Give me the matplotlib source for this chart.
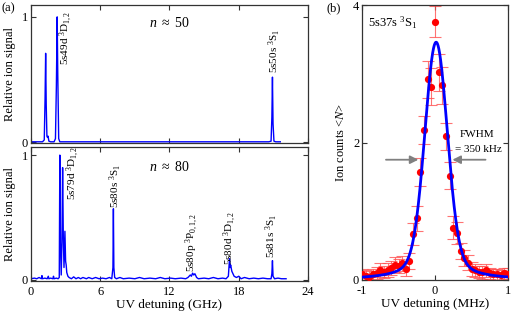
import numpy as np
import matplotlib
matplotlib.use("Agg")
import matplotlib.pyplot as plt

plt.rcParams['font.family'] = ['Liberation Serif', 'DejaVu Serif']
plt.rcParams['mathtext.fontset'] = 'custom'
plt.rcParams['mathtext.rm'] = 'Liberation Serif'
plt.rcParams['mathtext.it'] = 'Liberation Serif:italic'
plt.rcParams['font.size'] = 8

# ---------------- data: panel (a) ----------------
x50 = [0.0, 1.0, 1.15, 1.22, 1.27, 1.32, 1.38, 1.43, 1.48, 1.55,
       1.7, 2.0, 2.12, 2.2, 2.27, 2.32, 2.4, 2.5, 6.0, 12.0,
       18.0, 20.6, 20.8, 20.87, 20.92, 20.97, 21.05, 21.2, 21.6]
y50 = [0.005, 0.005, 0.02, 0.35, 0.71, 0.3, 0.05, 0.04, 0.05, 0.01,
       0.005, 0.005, 0.03, 0.45, 1.0, 0.55, 0.03, 0.005, 0.005, 0.005,
       0.005, 0.005, 0.01, 0.2, 0.52, 0.15, 0.01, 0.005, 0.005]

x80 = [0.0, 0.3, 0.5, 0.7, 0.9, 0.95, 1.0, 1.2, 1.4, 1.5,
       1.55, 1.7, 1.9, 1.95, 2.0, 2.2, 2.35, 2.45, 2.5, 2.55,
       2.62, 2.68, 2.74, 2.8, 2.86, 2.94, 3.0, 3.05, 3.1, 3.2,
       3.3, 3.5, 3.7, 3.9, 4.1, 4.3, 4.5, 4.8, 5.0, 5.3,
       5.6, 5.9, 6.2, 6.5, 6.8, 7.0, 7.1, 7.14, 7.18, 7.25,
       7.4, 7.7, 8.0, 8.5, 9.0, 9.4, 9.8, 10.3, 10.8, 11.2,
       11.6, 12.1, 12.5, 13.0, 13.4, 13.6, 13.8, 13.9, 14.0, 14.1,
       14.2, 14.35, 14.5, 15.0, 15.4, 15.8, 16.2, 16.6, 16.9, 17.1,
       17.2, 17.25, 17.3, 17.4, 17.5, 17.6, 17.8, 18.0, 18.2, 18.5,
       18.9, 19.3, 19.7, 20.1, 20.5, 20.8, 20.87, 20.92, 20.97, 21.1,
       21.4, 21.7, 22.1]
y80 = [0.01, 0.015, 0.01, 0.02, 0.01, 0.035, 0.01, 0.015, 0.01, 0.03,
       0.01, 0.015, 0.01, 0.03, 0.01, 0.015, 0.01, 0.02, 1.0, 0.3,
       0.04, 0.3, 0.9, 0.35, 0.1, 0.39, 0.15, 0.12, 0.06, 0.03,
       0.02, 0.01, 0.025, 0.01, 0.02, 0.01, 0.02, 0.01, 0.02, 0.01,
       0.02, 0.01, 0.015, 0.01, 0.02, 0.01, 0.1, 0.57, 0.1, 0.02,
       0.01, 0.02, 0.01, 0.015, 0.01, 0.02, 0.01, 0.015, 0.01, 0.02,
       0.01, 0.015, 0.01, 0.015, 0.01, 0.02, 0.04, 0.03, 0.055, 0.04,
       0.05, 0.02, 0.01, 0.015, 0.01, 0.02, 0.01, 0.015, 0.01, 0.03,
       0.17, 0.1, 0.12, 0.07, 0.05, 0.03, 0.02, 0.03, 0.01, 0.02,
       0.01, 0.015, 0.01, 0.015, 0.01, 0.01, 0.05, 0.155, 0.03, 0.01,
       0.015, 0.01, 0.01]

labels50 = [r"5s49d $^3$D$_{1,2}$", r"5s50s $^3$S$_1$"]
labels50_x = [3.1, 21.1]
labels50_top = [0.96, 0.83]

labels80 = [r"5s79d $^3$D$_{1,2}$", r"5s80s $^3$S$_1$", r"5s80p $^3$P$_{0,1,2}$",
            r"5s80d $^3$D$_{1,2}$", r"5s81s $^3$S$_1$"]
labels80_x = [3.7, 7.35, 14.0, 17.3, 20.9]
labels80_top = [1.01, 0.875, 0.51, 0.52, 0.5]

# ---------------- data: panel (b) ----------------
det_b = [-1.0, -0.95, -0.9, -0.85, -0.8, -0.75, -0.7, -0.65, -0.6, -0.55,
         -0.5, -0.45, -0.4, -0.35, -0.3, -0.25, -0.2, -0.15, -0.1, -0.05,
         0.0, 0.05, 0.1, 0.15, 0.2, 0.25, 0.3, 0.35, 0.4, 0.45,
         0.5, 0.55, 0.6, 0.65, 0.7, 0.75, 0.8, 0.85, 0.9, 0.95, 1.0]
counts_b = [0.08, 0.06, 0.05, 0.08, 0.1, 0.15, 0.12, 0.15, 0.17, 0.22,
            0.2, 0.24, 0.16, 0.28, 0.67, 0.9, 1.57, 2.18, 2.92, 2.81,
            3.76, 3.02, 2.83, 2.09, 1.52, 0.76, 0.68, 0.42, 0.32, 0.25,
            0.16, 0.14, 0.12, 0.11, 0.14, 0.1, 0.08, 0.08, 0.07, 0.1, 0.09]
err_b = [0.08, 0.08, 0.08, 0.08, 0.09, 0.1, 0.09, 0.1, 0.1, 0.11,
         0.1, 0.11, 0.1, 0.12, 0.16, 0.18, 0.2, 0.2, 0.27, 0.27,
         0.23, 0.27, 0.27, 0.2, 0.2, 0.17, 0.16, 0.12, 0.11, 0.11,
         0.1, 0.09, 0.09, 0.09, 0.09, 0.08, 0.08, 0.08, 0.08, 0.08, 0.08]

# fit (line shape) parameters
fit_center = 0.015
fit_amp = 3.46
fit_sigma = 0.15
fit_gamma = 0.28
fit_eta = 0.17

BLUE = '#0000ff'

fig = plt.figure(figsize=(5.13, 3.11), dpi=100)
ax1 = fig.add_axes([0.0604, 0.540, 0.540, 0.444])
ax2 = fig.add_axes([0.0604, 0.0965, 0.540, 0.4305])
axb = fig.add_axes([0.7057, 0.0997, 0.2846, 0.884])

for ax in (ax1, ax2, axb):
    ax.tick_params(direction='in', top=True, right=True, length=3.5, width=0.8,
                   labelsize=9, pad=2, color='#333333')
    ax.tick_params(axis='x', pad=3.5)
    for s in ax.spines.values():
        s.set_linewidth(0.9)
        s.set_color('#333333')

ax1.plot(x50, y50, color=BLUE, lw=1.0)
ax2.plot(x80, y80, color=BLUE, lw=1.0)
for ax in (ax1, ax2):
    ax.set_xlim(0, 24)
    ax.set_xticks([0, 6, 12, 18, 24])
    ax.set_yticks([0, 1])
    ax.set_yticklabels(['0', '1'])
ax1.set_ylim(-0.005, 1.095)
ax2.set_ylim(-0.008, 1.064)
ax1.set_xticklabels([])
ax2.set_xticklabels(['0', '6', '12', '18', '24'])
ax1.set_ylabel('Relative ion signal', fontsize=9, labelpad=4)
ax2.set_ylabel('Relative ion signal', fontsize=9, labelpad=4)
ax2.set_xlabel('UV detuning (GHz)', fontsize=9.5, labelpad=1)

for lab, x, t in zip(labels50, labels50_x, labels50_top):
    ax1.text(x, t, lab, rotation=90, ha='center', va='top', fontsize=8,
             transform=ax1.get_xaxis_transform())
for lab, x, t in zip(labels80, labels80_x, labels80_top):
    ax2.text(x, t, lab, rotation=90, ha='center', va='top', fontsize=8,
             transform=ax2.get_xaxis_transform())

ax1.text(0.5, 0.87, r"$n$ $\approx$ 50", transform=ax1.transAxes, ha='center',
         va='center', fontsize=10)
ax2.text(0.5, 0.855, r"$n$ $\approx$ 80", transform=ax2.transAxes, ha='center',
         va='center', fontsize=10)

# panel (b)
xf = np.linspace(-1, 1, 801)
u = xf - fit_center
gauss = np.exp(-u**2 / (2 * fit_sigma**2))
lor = fit_gamma**2 / (fit_gamma**2 + u**2)
fit_curve = fit_amp * ((1 - fit_eta) * gauss + fit_eta * lor)

axb.errorbar(det_b, counts_b, yerr=err_b, fmt='none', ecolor='#ff5050',
             elinewidth=0.8, capsize=4, capthick=0.8, alpha=0.8, zorder=2)
axb.plot(det_b, counts_b, 'o', color='#ff0000', ms=5.2, mec='none', zorder=3)
axb.plot(xf, fit_curve, color=BLUE, lw=2.0, zorder=4)
axb.set_xlim(-1, 1)
axb.set_ylim(0, 4)
axb.set_xticks([-1, 0, 1])
axb.set_xticklabels(['-1', '0', '1'])
axb.set_yticks([0, 2, 4])
axb.set_xlabel('UV detuning (MHz)', fontsize=9.5, labelpad=1)
axb.set_ylabel(r'Ion counts <$N$>', fontsize=9, labelpad=4)

axb.text(0.04, 0.965, r"5s37s $^3$S$_1$", transform=axb.transAxes, ha='left',
         va='top', fontsize=9)
axb.text(0.58, 2.12, 'FWHM', ha='center', va='center', fontsize=8)
axb.text(0.59, 1.9, '= 350 kHz', ha='center', va='center', fontsize=8)
arrow_kw = dict(arrowstyle='-|>,head_length=0.6,head_width=0.3', color='#808080', lw=1.3)
axb.annotate('', xy=(-0.19, 1.75), xytext=(-0.71, 1.75), arrowprops=arrow_kw)
axb.annotate('', xy=(0.20, 1.75), xytext=(0.73, 1.75), arrowprops=arrow_kw)

fig.text(0.002, 0.972, '(a)', fontsize=9, ha='left', va='center')
fig.text(0.636, 0.972, '(b)', fontsize=9, ha='left', va='center')

fig.savefig('out.png', dpi=100)
